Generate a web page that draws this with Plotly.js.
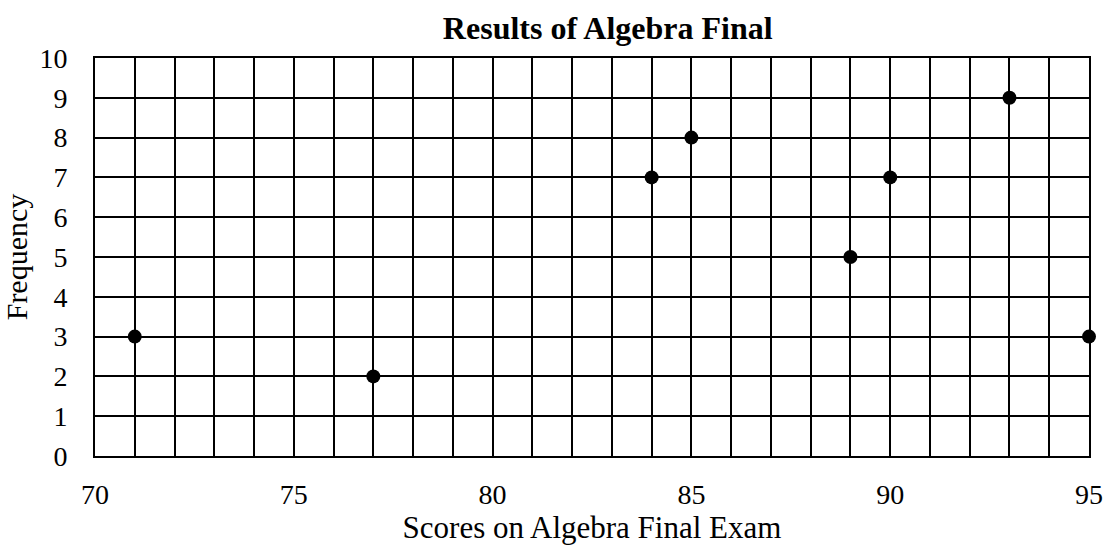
<!DOCTYPE html>
<html>
<head>
<meta charset="utf-8">
<script src="https://cdn.plot.ly/plotly-3.0.1.min.js"></script>
<style>html,body{margin:0;padding:0;background:#fff;}#chart{width:1105px;height:554px;}</style>
</head>
<body>
<div id="chart"></div>
<script>
var scores = [71, 77, 84, 85, 89, 90, 93, 95];
var frequency = [3, 2, 7, 8, 5, 7, 9, 3];
var chartTitle = 'Results of Algebra Final';
var xTitle = 'Scores on Algebra Final Exam';
var yTitle = 'Frequency';

var font = 'Liberation Serif, Times New Roman, serif';
var trace = {
  x: scores, y: frequency, type: 'scatter', mode: 'markers',
  marker: {color: '#000', size: 14},
  cliponaxis: false, hoverinfo: 'x+y'
};
var layout = {
  width: 1105, height: 554,
  margin: {l: 95, r: 16, t: 58, b: 98},
  paper_bgcolor: '#fff', plot_bgcolor: '#fff',
  showlegend: false,
  font: {family: font, color: '#000', size: 28},
  title: {text: '<b>' + chartTitle + '</b>', x: 0.55, xanchor: 'center', y: 0.949, yanchor: 'middle', font: {family: font, size: 32, color: '#000'}},
  xaxis: {
    range: [70, 95], dtick: 5, tick0: 70, ticks: '', showgrid: true, gridcolor: '#000', gridwidth: 2,
    minor: {dtick: 1, tick0: 70, showgrid: true, gridcolor: '#000', gridwidth: 2},
    showline: true, linecolor: '#000', linewidth: 2, mirror: true, zeroline: false,
    ticklabelstandoff: 12, tickfont: {family: font, size: 28, color: '#000'},
    title: {text: xTitle, standoff: 7, font: {family: font, size: 31, color: '#000'}}
  },
  yaxis: {
    range: [0, 10], dtick: 1, ticks: '', showgrid: true, gridcolor: '#000', gridwidth: 2,
    showline: true, linecolor: '#000', linewidth: 2, mirror: true, zeroline: false,
    ticklabelstandoff: 20, tickfont: {family: font, size: 28, color: '#000'},
    title: {text: yTitle, standoff: 4, font: {family: font, size: 30, color: '#000'}}
  }
};
Plotly.newPlot('chart', [trace], layout, {displayModeBar: false, staticPlot: true});
</script>
</body>
</html>
